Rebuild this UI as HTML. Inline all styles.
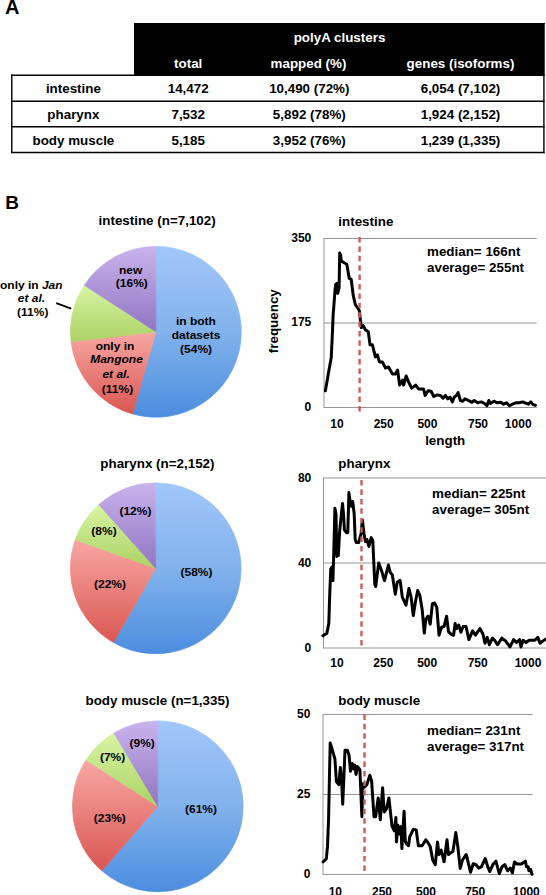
<!DOCTYPE html>
<html><head><meta charset="utf-8"><title>figure</title>
<style>
html,body{margin:0;padding:0;background:#fff;}
body{width:546px;height:895px;overflow:hidden;position:relative;}
svg{position:absolute;left:0;top:0;display:block;}
svg text{font-family:"Liberation Sans", sans-serif;}
</style></head>
<body>
<svg width="546" height="895" viewBox="0 0 546 895">
<text transform="translate(5.0,13.8) scale(1.0,1)" x="0" y="0" font-size="20" text-anchor="start" fill="#000" font-weight="bold" >A</text>
<rect x="134" y="23" width="410.3" height="52.9" fill="#000"/><rect x="544" y="23" width="1" height="1" fill="#000"/>
<line x1="11.1" y1="75.25" x2="544.6" y2="75.25" stroke="#000" stroke-width="1.4"/>
<line x1="11.1" y1="101.3" x2="544.6" y2="101.3" stroke="#000" stroke-width="1.4"/>
<line x1="11.1" y1="126.8" x2="544.6" y2="126.8" stroke="#000" stroke-width="1.4"/>
<line x1="11.1" y1="152.5" x2="544.6" y2="152.5" stroke="#000" stroke-width="1.4"/>
<line x1="11.8" y1="74.6" x2="11.8" y2="153.2" stroke="#000" stroke-width="1.4"/>
<line x1="543.9" y1="23" x2="543.9" y2="153.2" stroke="#000" stroke-width="1.4"/>
<text transform="translate(339.5,42.1) scale(1.03,1)" x="0" y="0" font-size="13" text-anchor="middle" fill="#fff" font-weight="bold" >polyA clusters</text>
<text transform="translate(188.2,67.7) scale(1.03,1)" x="0" y="0" font-size="13" text-anchor="middle" fill="#fff" font-weight="bold" >total</text>
<text transform="translate(308.5,67.6) scale(1.03,1)" x="0" y="0" font-size="13" text-anchor="middle" fill="#fff" font-weight="bold" >mapped (%)</text>
<text transform="translate(460.5,67.6) scale(1.03,1)" x="0" y="0" font-size="13" text-anchor="middle" fill="#fff" font-weight="bold" >genes (isoforms)</text>
<text transform="translate(73.4,93.3) scale(1.03,1)" x="0" y="0" font-size="13" text-anchor="middle" fill="#000" font-weight="bold" >intestine</text>
<text transform="translate(188.2,93.3) scale(1.03,1)" x="0" y="0" font-size="13" text-anchor="middle" fill="#000" font-weight="bold" >14,472</text>
<text transform="translate(309.3,93.3) scale(1.03,1)" x="0" y="0" font-size="13" text-anchor="middle" fill="#000" font-weight="bold" >10,490 (72%)</text>
<text transform="translate(460.5,93.3) scale(1.03,1)" x="0" y="0" font-size="13" text-anchor="middle" fill="#000" font-weight="bold" >6,054 (7,102)</text>
<text transform="translate(73.4,119.0) scale(1.03,1)" x="0" y="0" font-size="13" text-anchor="middle" fill="#000" font-weight="bold" >pharynx</text>
<text transform="translate(188.2,119.0) scale(1.03,1)" x="0" y="0" font-size="13" text-anchor="middle" fill="#000" font-weight="bold" >7,532</text>
<text transform="translate(309.3,119.0) scale(1.03,1)" x="0" y="0" font-size="13" text-anchor="middle" fill="#000" font-weight="bold" >5,892 (78%)</text>
<text transform="translate(460.5,119.0) scale(1.03,1)" x="0" y="0" font-size="13" text-anchor="middle" fill="#000" font-weight="bold" >1,924 (2,152)</text>
<text transform="translate(73.4,144.6) scale(1.03,1)" x="0" y="0" font-size="13" text-anchor="middle" fill="#000" font-weight="bold" >body muscle</text>
<text transform="translate(188.2,144.6) scale(1.03,1)" x="0" y="0" font-size="13" text-anchor="middle" fill="#000" font-weight="bold" >5,185</text>
<text transform="translate(309.3,144.6) scale(1.03,1)" x="0" y="0" font-size="13" text-anchor="middle" fill="#000" font-weight="bold" >3,952 (76%)</text>
<text transform="translate(460.5,144.6) scale(1.03,1)" x="0" y="0" font-size="13" text-anchor="middle" fill="#000" font-weight="bold" >1,239 (1,335)</text>
<text transform="translate(5.3,209.2) scale(1.0,1)" x="0" y="0" font-size="19" text-anchor="start" fill="#000" font-weight="bold" >B</text>
<defs>
<linearGradient id="gb" x1="0" y1="0" x2="0" y2="1"><stop offset="0" stop-color="#a2c7fa"/><stop offset="0.5" stop-color="#82b2ec"/><stop offset="1" stop-color="#4b8ddf"/></linearGradient>
<linearGradient id="gr" x1="0" y1="0" x2="0" y2="1"><stop offset="0" stop-color="#f8a7a3"/><stop offset="1" stop-color="#da5651"/></linearGradient>
<linearGradient id="gg" x1="0" y1="0" x2="0" y2="1"><stop offset="0" stop-color="#d8f4a2"/><stop offset="1" stop-color="#acd266"/></linearGradient>
<linearGradient id="gp" x1="0" y1="0" x2="0" y2="1"><stop offset="0" stop-color="#c9b3ec"/><stop offset="1" stop-color="#9175c2"/></linearGradient>
</defs>
<g transform="translate(155.9,331.8)">
<path d="M0,0 L0.00,-85.40 A85.4,85.4 0 1 1 -23.25,82.17 Z" fill="url(#gb)" stroke="url(#gb)" stroke-width="0.7" stroke-linejoin="round"/>
<path d="M0,0 L-23.25,82.17 A85.4,85.4 0 0 1 -84.82,9.96 Z" fill="url(#gr)" stroke="url(#gr)" stroke-width="0.7" stroke-linejoin="round"/>
<path d="M0,0 L-84.82,9.96 A85.4,85.4 0 0 1 -71.62,-46.51 Z" fill="url(#gg)" stroke="url(#gg)" stroke-width="0.7" stroke-linejoin="round"/>
<path d="M0,0 L-71.62,-46.51 A85.4,85.4 0 0 1 -0.00,-85.40 Z" fill="url(#gp)" stroke="url(#gp)" stroke-width="0.7" stroke-linejoin="round"/>
</g>
<g transform="translate(155.7,568.3)">
<path d="M0,0 L0.00,-85.40 A85.4,85.4 0 1 1 -42.31,74.18 Z" fill="url(#gb)" stroke="url(#gb)" stroke-width="0.7" stroke-linejoin="round"/>
<path d="M0,0 L-42.31,74.18 A85.4,85.4 0 0 1 -80.50,-28.51 Z" fill="url(#gr)" stroke="url(#gr)" stroke-width="0.7" stroke-linejoin="round"/>
<path d="M0,0 L-80.50,-28.51 A85.4,85.4 0 0 1 -56.92,-63.66 Z" fill="url(#gg)" stroke="url(#gg)" stroke-width="0.7" stroke-linejoin="round"/>
<path d="M0,0 L-56.92,-63.66 A85.4,85.4 0 0 1 -0.00,-85.40 Z" fill="url(#gp)" stroke="url(#gp)" stroke-width="0.7" stroke-linejoin="round"/>
</g>
<g transform="translate(157.8,806.3)">
<path d="M0,0 L0.00,-85.40 A85.4,85.4 0 1 1 -55.91,64.55 Z" fill="url(#gb)" stroke="url(#gb)" stroke-width="0.7" stroke-linejoin="round"/>
<path d="M0,0 L-55.91,64.55 A85.4,85.4 0 0 1 -71.70,-46.39 Z" fill="url(#gr)" stroke="url(#gr)" stroke-width="0.7" stroke-linejoin="round"/>
<path d="M0,0 L-71.70,-46.39 A85.4,85.4 0 0 1 -43.98,-73.20 Z" fill="url(#gg)" stroke="url(#gg)" stroke-width="0.7" stroke-linejoin="round"/>
<path d="M0,0 L-43.98,-73.20 A85.4,85.4 0 0 1 -0.00,-85.40 Z" fill="url(#gp)" stroke="url(#gp)" stroke-width="0.7" stroke-linejoin="round"/>
</g>
<text transform="translate(157.1,225.3) scale(1.03,1)" x="0" y="0" font-size="13" text-anchor="middle" fill="#000" font-weight="bold" >intestine (n=7,102)</text>
<text transform="translate(157.4,468.3) scale(1.03,1)" x="0" y="0" font-size="13" text-anchor="middle" fill="#000" font-weight="bold" >pharynx (n=2,152)</text>
<text transform="translate(157.4,704.9) scale(1.03,1)" x="0" y="0" font-size="13" text-anchor="middle" fill="#000" font-weight="bold" >body muscle (n=1,335)</text>
<text transform="translate(130.6,273.8) scale(1,0.88)" x="0" y="0" font-size="12" text-anchor="middle" font-weight="bold">new</text>
<text transform="translate(131.8,287.0) scale(1,0.88)" x="0" y="0" font-size="12" text-anchor="middle" font-weight="bold">(16%)</text>
<text transform="translate(195.9,324.8) scale(1,0.88)" x="0" y="0" font-size="12" text-anchor="middle" font-weight="bold">in both</text>
<text transform="translate(196.0,339.1) scale(1,0.88)" x="0" y="0" font-size="12" text-anchor="middle" font-weight="bold">datasets</text>
<text transform="translate(196.1,352.8) scale(1,0.88)" x="0" y="0" font-size="12" text-anchor="middle" font-weight="bold">(54%)</text>
<text transform="translate(115.0,350.2) scale(1,0.88)" x="0" y="0" font-size="12" text-anchor="middle" font-weight="bold">only in</text>
<text transform="translate(116.5,362.9) scale(1,0.88)" x="0" y="0" font-size="12" text-anchor="middle" font-weight="bold"><tspan font-style="italic">Mangone</tspan></text>
<text transform="translate(116.1,378.2) scale(1,0.88)" x="0" y="0" font-size="12" text-anchor="middle" font-weight="bold"><tspan font-style="italic">et al.</tspan></text>
<text transform="translate(117.5,393.3) scale(1,0.88)" x="0" y="0" font-size="12" text-anchor="middle" font-weight="bold">(11%)</text>
<text transform="translate(31.3,288.5) scale(1,0.88)" x="0" y="0" font-size="12" text-anchor="middle" font-weight="bold">only in <tspan font-style="italic">Jan</tspan></text>
<text transform="translate(31.4,301.7) scale(1,0.88)" x="0" y="0" font-size="12" text-anchor="middle" font-weight="bold"><tspan font-style="italic">et al.</tspan></text>
<text transform="translate(32.7,316.3) scale(1,0.88)" x="0" y="0" font-size="12" text-anchor="middle" font-weight="bold">(11%)</text>
<line x1="56.3" y1="303.1" x2="71.2" y2="308.6" stroke="#000" stroke-width="1.7"/>
<text transform="translate(135.4,515.4) scale(1,0.88)" x="0" y="0" font-size="12" text-anchor="middle" font-weight="bold">(12%)</text>
<text transform="translate(104.0,535.0) scale(1,0.88)" x="0" y="0" font-size="12" text-anchor="middle" font-weight="bold">(8%)</text>
<text transform="translate(110.0,588.3) scale(1,0.88)" x="0" y="0" font-size="12" text-anchor="middle" font-weight="bold">(22%)</text>
<text transform="translate(196.5,575.9) scale(1,0.88)" x="0" y="0" font-size="12" text-anchor="middle" font-weight="bold">(58%)</text>
<text transform="translate(142.2,746.7) scale(1,0.88)" x="0" y="0" font-size="12" text-anchor="middle" font-weight="bold">(9%)</text>
<text transform="translate(112.6,760.8) scale(1,0.88)" x="0" y="0" font-size="12" text-anchor="middle" font-weight="bold">(7%)</text>
<text transform="translate(109.8,821.9) scale(1,0.88)" x="0" y="0" font-size="12" text-anchor="middle" font-weight="bold">(23%)</text>
<text transform="translate(201.0,812.9) scale(1,0.88)" x="0" y="0" font-size="12" text-anchor="middle" font-weight="bold">(61%)</text>
<line x1="324.0" y1="238.5" x2="536.8" y2="238.5" stroke="#959595" stroke-width="1"/>
<line x1="324.0" y1="323.0" x2="536.8" y2="323.0" stroke="#959595" stroke-width="1"/>
<line x1="324.0" y1="407.5" x2="536.8" y2="407.5" stroke="#959595" stroke-width="1"/>
<line x1="324.0" y1="238.0" x2="324.0" y2="408.0" stroke="#959595" stroke-width="1"/>
<text transform="translate(311.3,242.1) scale(1.0,1)" x="0" y="0" font-size="12" text-anchor="end" fill="#000" font-weight="bold" >350</text>
<text transform="translate(311.3,326.4) scale(1.0,1)" x="0" y="0" font-size="12" text-anchor="end" fill="#000" font-weight="bold" >175</text>
<text transform="translate(311.3,410.7) scale(1.0,1)" x="0" y="0" font-size="12" text-anchor="end" fill="#000" font-weight="bold" >0</text>
<text transform="translate(338.3,225.5) scale(1.03,1)" x="0" y="0" font-size="13" text-anchor="start" fill="#000" font-weight="bold" >intestine</text>
<text transform="translate(427.0,256.1) scale(1.03,1)" x="0" y="0" font-size="13" text-anchor="start" fill="#000" font-weight="bold" >median= 166nt</text>
<text transform="translate(427.0,272.0) scale(1.03,1)" x="0" y="0" font-size="13" text-anchor="start" fill="#000" font-weight="bold" >average= 255nt</text>
<text transform="translate(337.0,427.5) scale(1.0,1)" x="0" y="0" font-size="12" text-anchor="middle" fill="#000" font-weight="bold" >10</text>
<text transform="translate(383.7,427.5) scale(1.0,1)" x="0" y="0" font-size="12" text-anchor="middle" fill="#000" font-weight="bold" >250</text>
<text transform="translate(427.4,427.5) scale(1.0,1)" x="0" y="0" font-size="12" text-anchor="middle" fill="#000" font-weight="bold" >500</text>
<text transform="translate(478.0,427.5) scale(1.0,1)" x="0" y="0" font-size="12" text-anchor="middle" fill="#000" font-weight="bold" >750</text>
<text transform="translate(518.2,427.5) scale(1.0,1)" x="0" y="0" font-size="12" text-anchor="middle" fill="#000" font-weight="bold" >1000</text>
<polyline points="325.4,390.8 328.9,370.5 331.2,358.0 332.2,338.0 333.1,315.6 335.1,289.4 335.7,284.4 337.1,283.3 337.7,293.4 339.1,287.4 339.7,253.1 340.7,255.1 341.2,261.2 343.2,262.2 346.8,264.2 349.2,278.3 351.2,279.3 353.2,295.4 355.3,304.5 359.3,310.5 361.3,327.7 363.3,325.7 365.3,329.7 368.3,331.7 370.0,344.8 372.4,344.8 375.4,356.9 377.4,354.9 379.4,361.9 382.4,361.9 385.5,368.0 388.5,367.0 392.5,374.0 395.5,374.0 397.6,370.0 399.6,385.1 402.6,380.0 403.6,385.1 406.2,376.0 408.6,382.1 411.7,388.1 415.7,385.1 418.7,389.1 420.0,388.9 423.5,388.9 425.1,395.4 428.1,390.8 431.1,391.2 433.8,396.5 437.3,394.9 440.8,395.8 443.1,398.2 445.4,395.4 447.7,398.8 450.0,397.2 452.3,401.9 454.2,397.2 456.5,395.4 458.1,392.6 460.4,400.5 462.7,401.2 465.0,398.8 468.5,400.5 471.9,402.3 474.2,400.5 477.7,402.8 481.2,401.9 484.6,403.5 486.9,405.8 488.8,400.5 490.4,403.5 493.9,401.2 497.3,402.8 500.8,402.3 503.5,404.2 506.5,402.8 509.5,405.8 512.3,404.2 515.8,402.8 519.2,402.8 522.7,401.9 525.7,403.2 528.5,404.2 530.8,401.9 533.1,404.6 535.4,405.3" fill="none" stroke="#000" stroke-width="3" stroke-linejoin="round" stroke-linecap="round"/>
<line x1="359.6" y1="237.1" x2="359.6" y2="411.9" stroke="#d05a5a" stroke-width="2.4" stroke-dasharray="5.5 3.88"/>
<line x1="323.5" y1="478.0" x2="546.5" y2="478.0" stroke="#959595" stroke-width="1"/>
<line x1="323.5" y1="563.0" x2="546.5" y2="563.0" stroke="#959595" stroke-width="1"/>
<line x1="323.5" y1="648.0" x2="546.5" y2="648.0" stroke="#959595" stroke-width="1"/>
<line x1="323.5" y1="477.5" x2="323.5" y2="648.5" stroke="#959595" stroke-width="1"/>
<text transform="translate(311.3,481.9) scale(1.0,1)" x="0" y="0" font-size="12" text-anchor="end" fill="#000" font-weight="bold" >80</text>
<text transform="translate(311.3,566.8) scale(1.0,1)" x="0" y="0" font-size="12" text-anchor="end" fill="#000" font-weight="bold" >40</text>
<text transform="translate(311.3,651.7) scale(1.0,1)" x="0" y="0" font-size="12" text-anchor="end" fill="#000" font-weight="bold" >0</text>
<text transform="translate(338.3,467.8) scale(1.03,1)" x="0" y="0" font-size="13" text-anchor="start" fill="#000" font-weight="bold" >pharynx</text>
<text transform="translate(432.1,498.0) scale(1.03,1)" x="0" y="0" font-size="13" text-anchor="start" fill="#000" font-weight="bold" >median= 225nt</text>
<text transform="translate(432.1,514.2) scale(1.03,1)" x="0" y="0" font-size="13" text-anchor="start" fill="#000" font-weight="bold" >average= 305nt</text>
<text transform="translate(336.9,667.0) scale(1.0,1)" x="0" y="0" font-size="12" text-anchor="middle" fill="#000" font-weight="bold" >10</text>
<text transform="translate(383.3,667.0) scale(1.0,1)" x="0" y="0" font-size="12" text-anchor="middle" fill="#000" font-weight="bold" >250</text>
<text transform="translate(427.2,667.0) scale(1.0,1)" x="0" y="0" font-size="12" text-anchor="middle" fill="#000" font-weight="bold" >500</text>
<text transform="translate(477.7,667.0) scale(1.0,1)" x="0" y="0" font-size="12" text-anchor="middle" fill="#000" font-weight="bold" >750</text>
<text transform="translate(528.0,667.0) scale(1.0,1)" x="0" y="0" font-size="12" text-anchor="middle" fill="#000" font-weight="bold" >1000</text>
<polyline points="322.9,635.7 326.8,633.4 328.8,623.6 329.8,592.3 330.8,568.9 332.1,566.9 332.9,580.6 333.7,555.2 334.9,508.2 336.0,514.1 336.8,556.5 337.6,546.0 338.3,555.5 339.6,531.7 342.5,503.4 343.5,514.1 344.4,529.8 346.4,532.7 347.8,532.7 348.9,492.6 350.3,502.4 351.3,506.3 352.7,501.4 354.2,514.1 355.2,539.5 356.2,542.5 358.7,542.5 361.1,533.7 362.4,520.0 364.0,533.7 365.4,541.5 366.9,539.5 368.9,546.4 371.2,537.6 372.8,540.5 374.8,584.5 375.7,586.5 378.7,563.0 381.6,570.8 384.5,580.6 388.4,565.0 390.4,572.8 392.3,574.7 395.3,594.3 397.2,582.5 400.1,580.3 402.3,597.1 406.0,605.2 408.9,588.4 411.1,597.1 413.3,615.5 415.5,601.5 417.7,590.5 419.9,595.7 422.1,608.9 424.3,633.0 425.8,619.1 428.0,616.2 430.2,624.2 432.4,603.7 434.6,603.0 436.8,607.4 439.0,635.2 441.6,627.2 444.1,626.4 446.6,616.2 448.5,631.6 451.4,634.5 453.6,635.2 455.1,623.5 456.5,628.6 458.7,625.0 460.9,632.3 463.1,626.4 466.0,626.4 468.9,639.6 472.6,630.8 475.5,635.2 479.9,628.6 482.8,633.7 485.0,643.2 487.2,637.4 489.4,644.7 492.4,638.1 494.6,640.3 497.5,644.7 501.9,638.1 505.6,641.0 510.0,646.9 513.6,639.6 516.5,642.5 519.5,639.6 521.0,646.9 523.1,640.3 526.1,642.5 529.0,640.3 534.9,640.3 537.8,637.4 540.0,643.2 542.9,641.0 546.5,638.8" fill="none" stroke="#000" stroke-width="3" stroke-linejoin="round" stroke-linecap="round"/>
<line x1="361.5" y1="480.1" x2="361.5" y2="648.0" stroke="#d05a5a" stroke-width="2.4" stroke-dasharray="5.5 3.91"/>
<line x1="323.0" y1="714.5" x2="532.6" y2="714.5" stroke="#959595" stroke-width="1"/>
<line x1="323.0" y1="794.5" x2="532.6" y2="794.5" stroke="#959595" stroke-width="1"/>
<line x1="323.0" y1="874.5" x2="532.6" y2="874.5" stroke="#959595" stroke-width="1"/>
<line x1="323.0" y1="714.0" x2="323.0" y2="875.0" stroke="#959595" stroke-width="1"/>
<text transform="translate(310.4,718.0) scale(1.0,1)" x="0" y="0" font-size="12" text-anchor="end" fill="#000" font-weight="bold" >50</text>
<text transform="translate(310.4,798.15) scale(1.0,1)" x="0" y="0" font-size="12" text-anchor="end" fill="#000" font-weight="bold" >25</text>
<text transform="translate(310.4,878.3) scale(1.0,1)" x="0" y="0" font-size="12" text-anchor="end" fill="#000" font-weight="bold" >0</text>
<text transform="translate(338.3,704.9) scale(1.03,1)" x="0" y="0" font-size="13" text-anchor="start" fill="#000" font-weight="bold" >body muscle</text>
<text transform="translate(427.0,734.6) scale(1.03,1)" x="0" y="0" font-size="13" text-anchor="start" fill="#000" font-weight="bold" >median= 231nt</text>
<text transform="translate(427.0,750.7) scale(1.03,1)" x="0" y="0" font-size="13" text-anchor="start" fill="#000" font-weight="bold" >average= 317nt</text>
<text transform="translate(335.3,896.0) scale(1.0,1)" x="0" y="0" font-size="12" text-anchor="middle" fill="#000" font-weight="bold" >10</text>
<text transform="translate(382.0,896.0) scale(1.0,1)" x="0" y="0" font-size="12" text-anchor="middle" fill="#000" font-weight="bold" >250</text>
<text transform="translate(426.0,896.0) scale(1.0,1)" x="0" y="0" font-size="12" text-anchor="middle" fill="#000" font-weight="bold" >500</text>
<text transform="translate(475.2,896.0) scale(1.0,1)" x="0" y="0" font-size="12" text-anchor="middle" fill="#000" font-weight="bold" >750</text>
<text transform="translate(526.4,896.0) scale(1.0,1)" x="0" y="0" font-size="12" text-anchor="middle" fill="#000" font-weight="bold" >1000</text>
<polyline points="323.1,861.8 326.3,858.9 327.5,846.4 328.6,818.2 329.4,779.1 330.2,743.1 331.7,747.8 334.9,758.8 336.4,781.5 338.8,784.6 340.3,767.4 341.6,779.1 342.7,804.2 343.8,779.1 345.0,750.2 347.4,750.2 349.0,754.9 350.5,771.3 352.1,763.5 353.6,769.0 354.7,765.0 356.0,774.4 357.6,766.6 359.9,769.7 361.9,816.7 363.0,783.8 364.6,786.9 366.9,784.6 369.8,775.2 371.6,780.7 374.0,816.7 375.6,816.7 378.2,797.9 380.3,819.8 382.6,787.7 384.2,812.0 386.5,808.9 388.9,797.9 392.0,826.1 394.3,830.8 395.9,817.5 396.5,842.0 397.9,825.2 399.4,834.0 400.9,826.6 401.9,848.6 403.1,826.6 404.1,811.2 405.3,841.3 406.7,844.2 408.5,845.7 409.7,836.9 413.3,829.3 416.2,829.9 418.4,845.7 422.1,845.7 425.8,839.8 428.0,842.7 430.2,846.4 432.8,860.3 435.3,864.7 437.5,842.0 439.0,854.5 441.2,850.1 444.1,861.8 447.0,839.8 448.5,854.5 450.4,853.0 452.9,851.5 455.8,832.5 457.7,845.7 460.2,868.4 462.4,860.3 466.1,854.5 467.1,857.8 470.5,872.2 473.2,863.7 476.0,864.6 478.7,868.1 481.5,866.7 485.3,858.5 487.7,866.7 489.7,871.5 493.2,864.0 495.9,861.2 499.3,873.6 502.1,866.7 504.8,864.6 507.6,870.8 510.3,868.1 512.4,872.9 514.5,861.9 517.2,864.0 521.3,864.0 525.4,861.2 526.5,866.7 528.2,866.7 528.9,870.8 530.7,869.5 532.0,874.3" fill="none" stroke="#000" stroke-width="3" stroke-linejoin="round" stroke-linecap="round"/>
<line x1="364.5" y1="714.4" x2="364.5" y2="874.5" stroke="#d05a5a" stroke-width="2.4" stroke-dasharray="5.5 3.94"/>
<text transform="translate(277.8,321.2) rotate(-90) scale(1.03,1)" x="0" y="0" font-size="13" text-anchor="middle" font-weight="bold">frequency</text>
<text transform="translate(445.2,444.8) scale(1.03,1)" x="0" y="0" font-size="13" text-anchor="middle" fill="#000" font-weight="bold" >length</text>
</svg>
</body></html>
